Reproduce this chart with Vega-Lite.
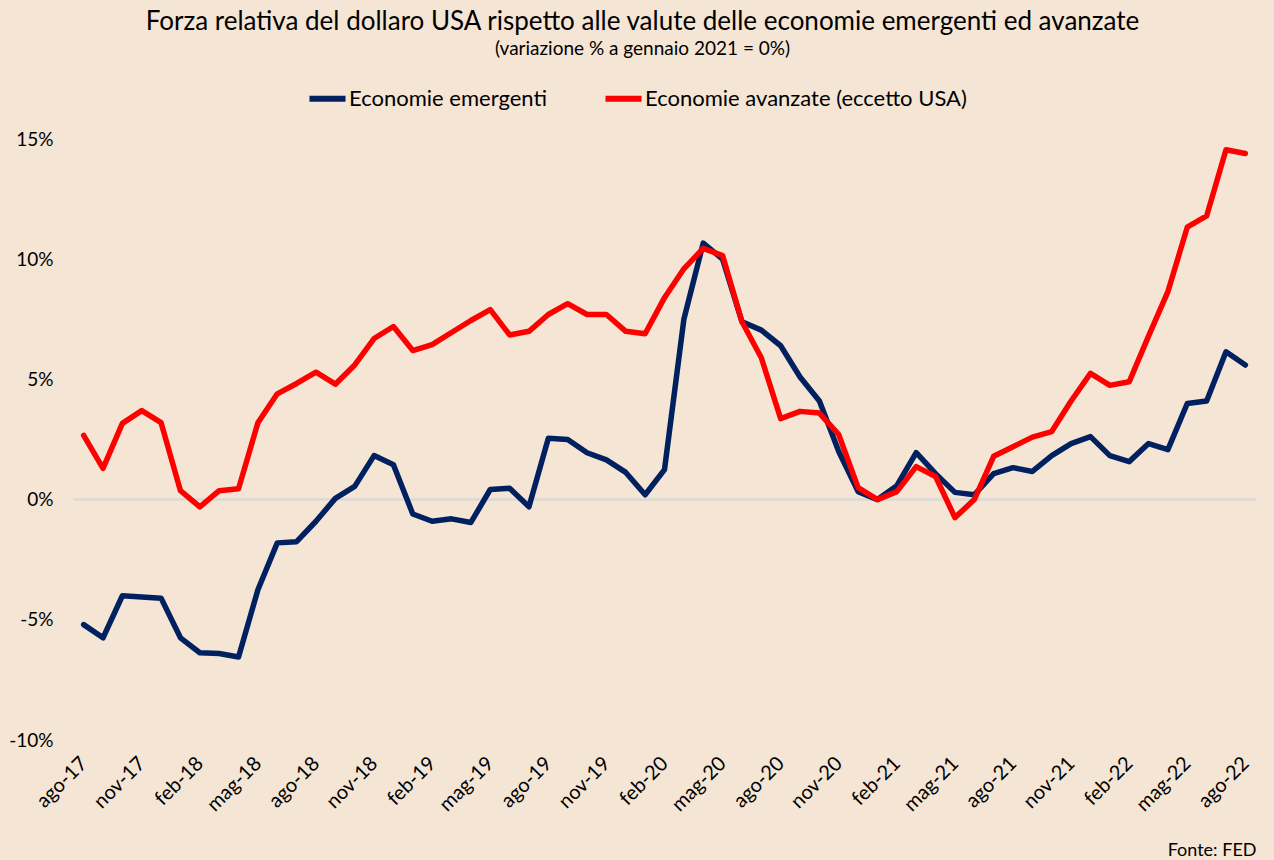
{
  "$schema": "https://vega.github.io/schema/vega-lite/v6.json",
  "width": 1183,
  "height": 601,
  "autosize": "none",
  "padding": {"left": 73, "top": 139, "right": 18, "bottom": 120},
  "background": "#F5E5D5",
  "config": {
    "view": {"stroke": null},
    "font": "Lato"
  },
  "title": {
    "text": "Forza relativa del dollaro USA rispetto alle valute delle economie emergenti ed avanzate",
    "subtitle": "(variazione % a gennaio 2021 = 0%)",
    "anchor": "middle",
    "dx": -22,
    "offset": 18,
    "font": "Lato",
    "fontSize": 26,
    "fontWeight": "normal",
    "color": "#000000",
    "subtitleFont": "Lato",
    "subtitleFontSize": 19,
    "subtitleColor": "#000000",
    "subtitlePadding": 5
  },
  "data": {
    "values": [
      {"m": "ago-17", "e": -5.2, "a": 2.67},
      {"m": "set-17", "e": -5.75, "a": 1.3},
      {"m": "ott-17", "e": -4.0, "a": 3.17},
      {"m": "nov-17", "e": -4.05, "a": 3.7},
      {"m": "dic-17", "e": -4.1, "a": 3.2},
      {"m": "gen-18", "e": -5.75, "a": 0.37},
      {"m": "feb-18", "e": -6.37, "a": -0.3},
      {"m": "mar-18", "e": -6.4, "a": 0.37},
      {"m": "apr-18", "e": -6.55, "a": 0.45},
      {"m": "mag-18", "e": -3.75, "a": 3.2},
      {"m": "giu-18", "e": -1.8, "a": 4.4},
      {"m": "lug-18", "e": -1.75, "a": 4.83},
      {"m": "ago-18", "e": -0.9, "a": 5.3},
      {"m": "set-18", "e": 0.05, "a": 4.8},
      {"m": "ott-18", "e": 0.55, "a": 5.6},
      {"m": "nov-18", "e": 1.83, "a": 6.7},
      {"m": "dic-18", "e": 1.45, "a": 7.2},
      {"m": "gen-19", "e": -0.6, "a": 6.2},
      {"m": "feb-19", "e": -0.9, "a": 6.45},
      {"m": "mar-19", "e": -0.8, "a": 6.95},
      {"m": "apr-19", "e": -0.95, "a": 7.45},
      {"m": "mag-19", "e": 0.42, "a": 7.9},
      {"m": "giu-19", "e": 0.47, "a": 6.85},
      {"m": "lug-19", "e": -0.3, "a": 7.0},
      {"m": "ago-19", "e": 2.55, "a": 7.7},
      {"m": "set-19", "e": 2.5, "a": 8.15},
      {"m": "ott-19", "e": 1.95, "a": 7.7},
      {"m": "nov-19", "e": 1.65, "a": 7.7},
      {"m": "dic-19", "e": 1.13, "a": 7.0},
      {"m": "gen-20", "e": 0.2, "a": 6.9},
      {"m": "feb-20", "e": 1.25, "a": 8.4},
      {"m": "mar-20", "e": 7.5, "a": 9.6},
      {"m": "apr-20", "e": 10.67, "a": 10.45},
      {"m": "mag-20", "e": 10.0, "a": 10.15},
      {"m": "giu-20", "e": 7.4, "a": 7.4},
      {"m": "lug-20", "e": 7.05, "a": 5.9},
      {"m": "ago-20", "e": 6.4, "a": 3.37},
      {"m": "set-20", "e": 5.1, "a": 3.67},
      {"m": "ott-20", "e": 4.1, "a": 3.6},
      {"m": "nov-20", "e": 2.0, "a": 2.7},
      {"m": "dic-20", "e": 0.33, "a": 0.5},
      {"m": "gen-21", "e": 0.0, "a": 0.0},
      {"m": "feb-21", "e": 0.58, "a": 0.33},
      {"m": "mar-21", "e": 1.95, "a": 1.37},
      {"m": "apr-21", "e": 1.08, "a": 0.96},
      {"m": "mag-21", "e": 0.3, "a": -0.75},
      {"m": "giu-21", "e": 0.2, "a": 0.0},
      {"m": "lug-21", "e": 1.08, "a": 1.8},
      {"m": "ago-21", "e": 1.33, "a": 2.2},
      {"m": "set-21", "e": 1.17, "a": 2.6},
      {"m": "ott-21", "e": 1.83, "a": 2.83},
      {"m": "nov-21", "e": 2.33, "a": 4.1},
      {"m": "dic-21", "e": 2.62, "a": 5.25},
      {"m": "gen-22", "e": 1.83, "a": 4.75},
      {"m": "feb-22", "e": 1.58, "a": 4.9},
      {"m": "mar-22", "e": 2.33, "a": 6.8},
      {"m": "apr-22", "e": 2.08, "a": 8.65},
      {"m": "mag-22", "e": 4.0, "a": 11.33},
      {"m": "giu-22", "e": 4.1, "a": 11.8},
      {"m": "lug-22", "e": 6.15, "a": 14.55},
      {"m": "ago-22", "e": 5.6, "a": 14.4}
    ]
  },
  "layer": [
    {
      "mark": {"type": "rule", "color": "#DEDAD6", "strokeWidth": 1.5},
      "encoding": {"y": {"datum": 0, "type": "quantitative"}}
    },
    {
      "transform": [
        {"fold": ["e", "a"], "as": ["k", "v"]},
        {"lookup": "k", "from": {"data": {"values": [
          {"k": "e", "serie": "Economie emergenti"},
          {"k": "a", "serie": "Economie avanzate (eccetto USA)"}
        ]}, "key": "k", "fields": ["serie"]}}
      ],
      "mark": {"type": "line", "strokeWidth": 5.5, "strokeCap": "round", "strokeJoin": "round"},
      "encoding": {
        "x": {
          "field": "m",
          "type": "ordinal",
          "sort": null,
          "scale": {"type": "point", "padding": 0.55},
          "axis": {
            "values": ["ago-17","nov-17","feb-18","mag-18","ago-18","nov-18","feb-19","mag-19","ago-19","nov-19","feb-20","mag-20","ago-20","nov-20","feb-21","mag-21","ago-21","nov-21","feb-22","mag-22","ago-22"],
            "labelAngle": -45,
            "labelAlign": "right",
            "labelBaseline": "middle",
            "labelFont": "Lato",
            "labelFontSize": 20,
            "labelColor": "#000000",
            "labelPadding": 20,
            "domain": false,
            "ticks": false,
            "grid": false,
            "title": "Fonte: FED",
            "titleAnchor": "end",
            "titleFont": "Lato",
            "titleFontSize": 18,
            "titleFontWeight": "normal",
            "titleColor": "#000000",
            "titlePadding": 27
          }
        },
        "y": {
          "field": "v",
          "type": "quantitative",
          "scale": {"domain": [-10, 15], "nice": false},
          "axis": {
            "values": [-10, -5, 0, 5, 10, 15],
            "labelExpr": "datum.value + '%'",
            "labelFont": "Lato",
            "labelFontSize": 19,
            "labelColor": "#000000",
            "labelPadding": 20,
            "domain": false,
            "ticks": false,
            "grid": false,
            "title": null
          }
        },
        "color": {
          "field": "serie",
          "type": "nominal",
          "scale": {
            "domain": ["Economie emergenti", "Economie avanzate (eccetto USA)"],
            "range": ["#002060", "#FF0000"]
          },
          "legend": {
            "title": null,
            "orient": "none",
            "direction": "horizontal",
            "legendX": 233,
            "legendY": -62,
            "symbolType": "stroke",
            "symbolSize": 1300,
            "symbolStrokeWidth": 6,
            "labelFont": "Lato",
            "labelFontSize": 22,
            "labelLimit": 0,
            "labelColor": "#000000",
            "labelOffset": 0,
            "columnPadding": 46
          }
        }
      }
    }
  ]
}
